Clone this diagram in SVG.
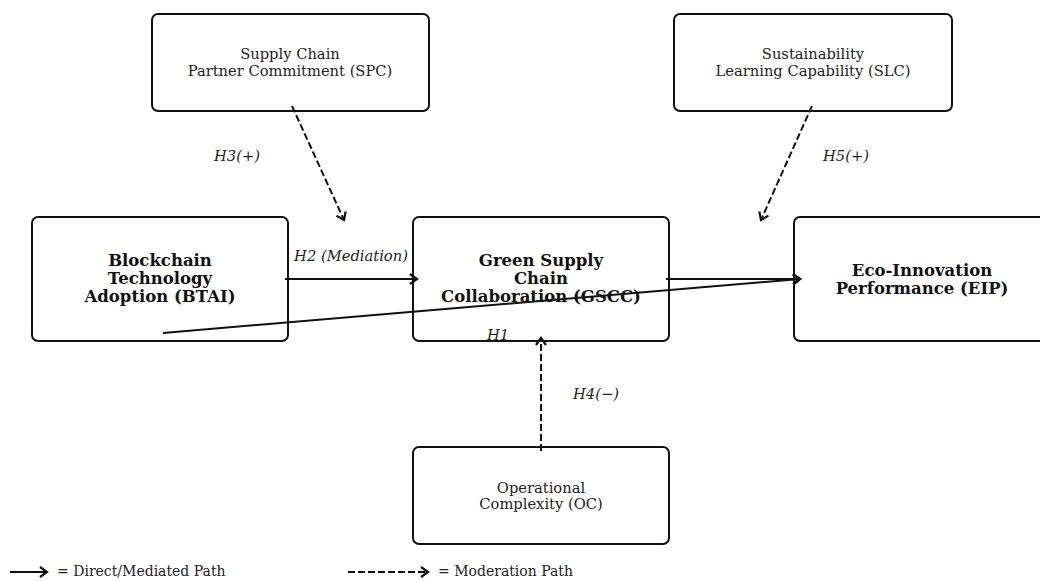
<svg xmlns="http://www.w3.org/2000/svg" width="1040" height="581" viewBox="0 0 1040 581">
<style>
.box{fill:#fff;stroke:#111;stroke-width:2}
.t{font-family:"DejaVu Serif",serif;font-size:14.7px;fill:#222;text-anchor:middle}
.b{font-family:"DejaVu Serif",serif;font-size:16.5px;font-weight:bold;fill:#111;text-anchor:middle}
.l{font-family:"DejaVu Serif",serif;font-size:14.7px;font-style:italic;fill:#222;text-anchor:middle}
.lg{font-family:"DejaVu Serif",serif;font-size:14px;fill:#222}
.s{stroke:#111;stroke-width:2;fill:none}
.d{stroke:#111;stroke-width:2;fill:none;stroke-dasharray:7,3}
</style>
<defs>
<marker id="a" markerWidth="12" markerHeight="12" refX="10" refY="6" orient="auto" markerUnits="userSpaceOnUse">
<path d="M3,1 L10,6 L3,11" fill="none" stroke="#111" stroke-width="2.2"/>
</marker>
</defs>
<rect width="1040" height="581" fill="#fff"/>
<g id="spc"><rect class="box" x="152" y="14" width="277" height="97" rx="6"/>
<text class="t" x="290" y="59">Supply Chain</text><text class="t" x="290" y="76">Partner Commitment (SPC)</text></g>
<g id="slc"><rect class="box" x="674" y="14" width="278" height="97" rx="6"/>
<text class="t" x="813" y="59">Sustainability</text><text class="t" x="813" y="76">Learning Capability (SLC)</text></g>
<g id="btai"><rect class="box" x="32" y="217" width="256" height="124" rx="6"/>
<text class="b" x="160" y="266">Blockchain</text><text class="b" x="160" y="284">Technology</text><text class="b" x="160" y="302">Adoption (BTAI)</text></g>
<g id="gscc"><rect class="box" x="413" y="217" width="256" height="124" rx="6"/>
<text class="b" x="541" y="266">Green Supply</text><text class="b" x="541" y="284">Chain</text><text class="b" x="541" y="302">Collaboration (GSCC)</text></g>
<g id="eip"><rect class="box" x="794" y="217" width="260" height="124" rx="6"/>
<text class="b" x="922" y="276">Eco-Innovation</text><text class="b" x="922" y="294">Performance (EIP)</text></g>
<g id="oc"><rect class="box" x="413" y="447" width="256" height="97" rx="6"/>
<text class="t" x="541" y="493">Operational</text><text class="t" x="541" y="509">Complexity (OC)</text></g>
<g id="connectors">
<line class="s" x1="285" y1="279" x2="417" y2="279" marker-end="url(#a)"/>
<line class="s" x1="666" y1="279" x2="800" y2="279" marker-end="url(#a)"/>
<line class="s" x1="163" y1="333" x2="800" y2="279" marker-end="url(#a)"/>
<line class="d" x1="292" y1="106" x2="344" y2="220" marker-end="url(#a)"/>
<line class="d" x1="812" y1="106" x2="761" y2="220" marker-end="url(#a)"/>
<line class="d" x1="541" y1="451" x2="541" y2="338" marker-end="url(#a)"/>
<text class="l" x="351" y="261">H2 (Mediation)</text>
<text class="l" x="498" y="340">H1</text>
<text class="l" x="237" y="161">H3(+)</text>
<text class="l" x="846" y="161">H5(+)</text>
<text class="l" x="596" y="399">H4(−)</text>
</g>
<g id="legend">
<line class="s" x1="10" y1="572" x2="47" y2="572" marker-end="url(#a)"/>
<text class="lg" x="57" y="576">= Direct/Mediated Path</text>
<line class="d" x1="348" y1="572" x2="428" y2="572" marker-end="url(#a)"/>
<text class="lg" x="438" y="576">= Moderation Path</text>
</g>
</svg>
